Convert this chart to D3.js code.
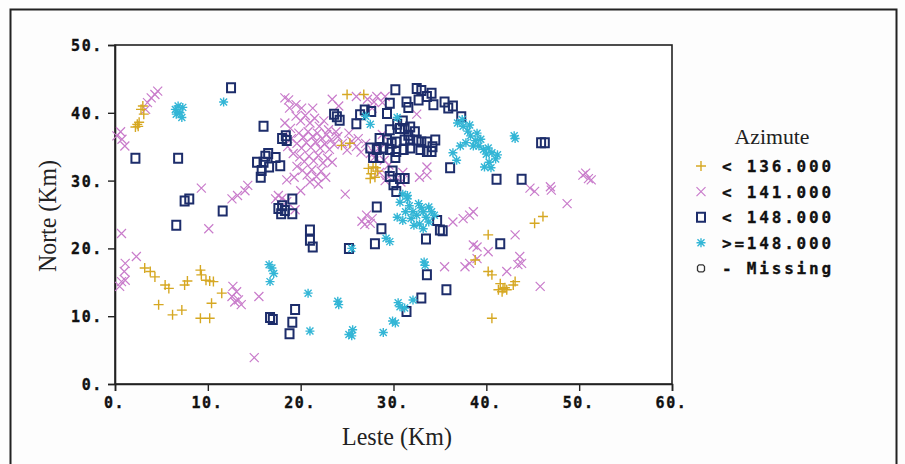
<!DOCTYPE html>
<html>
<head>
<meta charset="utf-8">
<script src="https://cdn.jsdelivr.net/npm/d3@7"></script>
<style>
  html, body { margin: 0; padding: 0; background: #fdfdfd; }
  svg { display: block; }
  .tick text { font-family: "DejaVu Sans Mono", monospace; font-weight: bold; font-size: 15px; letter-spacing: 1.6px; fill: #111; stroke: #111; stroke-width: 0.35px; }
  .title { font-family: "Liberation Serif", "Times New Roman", serif; fill: #222; }
  .leg { font-family: "DejaVu Sans Mono", monospace; font-weight: bold; font-size: 16px; letter-spacing: 2.8px; fill: #111; stroke: #111; stroke-width: 0.3px; }
</style>
</head>
<body>
<svg id="chart" width="905" height="464"></svg>
<script>
// Azimuth classes and their (Leste, Norte) positions in km
const classLabels = ["< 136.000", "< 141.000", "< 148.000", ">=148.000", "- Missing"];
const xTicks = [0, 10, 20, 30, 40, 50, 60];
const yTicks = [0, 10, 20, 30, 40, 50];

const azLt136 = [
  [2.2,37.9],[2.4,38.3],[2.6,38.6],[2.8,40.5],[3.1,39.8],[3.0,41.0],[2.5,38.0],
  [25.0,42.7],[26.8,42.7],[25.3,35.5],[24.4,35.2],
  [27.3,31.8],[27.6,31.0],[28.0,30.5],[27.8,32.0],[28.3,31.4],[27.5,30.3],[28.1,31.9],
  [3.2,17.1],[3.8,16.6],[4.3,15.8],[5.4,14.6],[5.8,14.1],[7.5,14.6],[7.8,15.2],[9.2,16.8],
  [9.3,16.1],[9.8,15.3],[10.2,15.2],[10.6,15.1],[11.5,13.4],[10.4,11.9],[4.7,11.7],[6.2,10.2],
  [7.2,10.9],[9.2,9.7],[10.2,9.7],
  [45.2,23.7],[46.1,24.7],[40.2,22.0],[38.8,18.3],[40.2,16.6],[40.6,16.1],[41.3,13.9],[41.7,13.6],
  [41.8,14.1],[42.2,13.9],[42.9,14.6],[43.1,15.1],[40.6,9.7],[41.5,14.8],[42.0,14.2]
];

const azLt141 = [
  [0.2,36.6],[0.6,37.2],[0.75,36.1],[1.06,35.1],[3.3,40.5],[3.5,41.5],[3.9,42.2],[4.3,42.7],[4.6,43.2],
  [0.7,22.2],[2.3,18.8],[1.1,17.8],[1.0,16.6],[0.7,15.1],[1.1,15.3],[0.5,14.4],
  [9.3,28.9],[10.1,22.9],[12.6,27.3],[13.2,27.8],[14.0,28.5],[14.3,29.3],
  [12.7,14.4],[13.1,13.6],[12.6,12.9],[13.3,12.4],[13.6,11.7],[12.9,12.1],[15.5,12.9],[15.0,3.9],
  [44.7,28.9],[45.2,28.4],[46.9,29.1],[47.0,28.6],[48.7,26.6],[50.4,30.8],[51.0,30.3],[51.3,30.1],[50.7,31.1],
  [43.1,22.0],[43.6,18.8],[43.8,17.8],[43.4,17.6],[42.2,16.6],[45.8,14.4],[38.6,20.5],[39.0,20.2],
  [40.2,19.5],[38.2,17.8],[39.0,18.5],[37.7,17.3],[35.5,17.3],
  [36.4,23.9],[37.5,24.4],[38.2,24.9],[38.6,25.4],
  [27.1,24.9],[27.5,23.7],[26.9,23.5],[27.7,24.4],[26.6,24.0],[24.8,28.0],
  [18.3,42.2],[18.8,40.7],[19.5,41.2],[20.1,40.7],[21.3,40.7],[18.7,41.9],[23.4,42.0],[24.1,41.0],
  [26.0,42.4],[27.2,42.0],[28.2,42.4],[28.8,41.5],[27.7,40.7],[29.1,42.4],[27.9,41.6],
  [24.5,35.5],[25.0,34.5],[25.5,35.8],[26.0,35.0],[26.5,34.2],[27.0,35.5],[27.5,34.0],[28.0,33.5],
  [28.5,34.6],[29.0,33.0],[29.5,32.3],[28.5,31.2],[29.1,30.0],[31.0,31.2],[33.6,32.0],[27.9,34.1],
  [26.2,36.2],[25.2,37.0],[24.0,36.5],[28.8,36.8],[29.3,30.8],[30.8,29.8],[32.8,30.5],[33.6,30.8],[32.5,39.8],
  [18.3,38.5],[18.9,37.7],[19.2,34.0],[19.6,32.1],[18.5,30.1],[18.0,27.4],[18.5,26.9],[19.4,25.7],
  [19.5,39.5],[20.0,38.8],[20.5,39.6],[21.0,38.5],[21.5,39.2],[22.0,38.0],[22.5,38.8],[23.0,37.5],
  [19.8,37.0],[20.3,36.4],[20.8,37.2],[21.3,36.5],[21.8,37.0],[22.3,36.2],[22.8,36.8],[23.3,36.0],[23.8,37.2],
  [19.6,35.5],[20.1,34.8],[20.6,35.6],[21.1,34.9],[21.6,35.7],[22.1,34.8],[22.6,35.4],[23.1,34.6],[23.6,35.3],
  [19.9,33.5],[20.4,32.8],[20.9,33.6],[21.4,32.9],[21.9,33.7],[22.4,32.6],[22.9,33.3],[23.4,32.7],
  [20.2,31.5],[20.7,30.8],[21.2,31.6],[21.7,30.6],[22.2,31.4],[22.7,30.5],[21.0,29.8],[21.9,29.5],
  [19.0,36.2],[18.6,35.0],[19.3,30.5],[20.0,28.5],[17.3,27.3],[17.6,27.8]
];

const azLt148 = [
  [12.5,43.7],[16.0,38.0],[2.2,33.3],[6.8,33.3],[7.5,27.0],[8.0,27.3],[11.6,25.5],[6.6,23.4],
  [16.0,32.7],[16.5,34.0],[17.3,33.4],[17.8,32.2],[15.7,30.5],[15.3,32.7],[16.6,32.0],[15.8,31.5],[16.2,33.6],
  [18.4,36.6],[18.5,35.9],[18.0,36.2],
  [18.0,26.3],[17.6,25.9],[17.9,25.1],[19.1,27.3],[19.1,25.1],[18.3,25.6],
  [21.0,21.2],[21.3,20.2],[21.0,22.7],[25.2,20.0],[28.0,20.7],[28.7,22.9],[28.2,26.1],[33.5,21.4],
  [35.0,22.7],[34.7,24.1],[35.3,22.6],
  [36.1,31.9],[41.1,30.2],[43.8,30.2],[45.9,35.6],[46.3,35.6],[41.5,20.7],
  [33.6,16.1],[35.7,13.9],[33.0,12.7],[31.4,10.7],
  [16.7,9.8],[17.0,9.5],[19.4,11.0],[19.1,9.1],[18.8,7.4],
  [29.6,30.6],[30.0,29.4],[30.3,28.4],[30.7,30.3],[31.2,30.3],[29.9,31.4],
  [23.9,39.4],[24.2,38.9],[23.6,39.8],[26.4,39.7],[26.9,40.4],[27.6,40.2],[26.0,38.4],[29.3,39.9],
  [29.6,41.4],[30.2,43.4],[31.4,41.6],[31.6,40.8],[32.5,43.6],[32.7,41.9],[33.6,42.4],[34.1,42.9],
  [34.3,41.2],[35.5,41.6],[35.9,40.7],[36.4,41.0],[37.3,39.4],[33.0,43.3],
  [29.6,37.5],[30.7,37.7],[31.2,37.7],[31.8,37.9],[31.6,36.7],[28.5,36.2],[29.3,36.0],[29.8,35.5],
  [30.3,35.7],[31.2,36.0],[31.8,36.0],[32.5,36.0],[33.0,35.7],[33.6,35.7],[34.5,36.0],[27.5,34.8],
  [28.2,34.6],[28.9,34.8],[29.6,34.6],[30.3,34.3],[31.1,34.6],[31.8,34.8],[32.9,34.6],[33.6,34.3],
  [34.1,34.3],[27.8,33.4],[28.5,33.4],[30.2,33.4],[30.4,38.3],[31.0,38.8],[34.2,35.0],[32.3,37.2]
];

const azGe148 = [
  [6.5,40.5],[7.0,40.0],[7.2,39.3],[6.8,41.0],[7.3,40.8],[6.6,39.8],[11.7,41.6],
  [16.9,17.1],[17.1,16.3],[16.7,15.1],[16.6,17.6],
  [20.8,13.4],[21.0,7.8],[24.0,12.2],[24.1,11.7],[25.2,7.3],[25.6,8.0],[25.5,7.1],[28.9,7.6],
  [29.9,9.3],[30.2,9.0],[30.5,12.0],[30.7,11.4],[31.2,11.2],[32.1,12.4],[33.3,18.0],[33.4,17.5],
  [29.2,21.5],[29.6,21.0],[25.5,20.0],[43.0,36.6],[43.1,36.2],
  [27.0,39.5],[27.5,38.3],[30.4,39.3],
  [31.0,28.0],[31.5,27.3],[31.7,26.3],[31.3,25.4],[30.4,24.6],[31.0,24.1],[31.9,24.4],[32.5,24.9],
  [33.2,25.4],[33.8,26.1],[34.1,25.4],[32.2,23.4],[33.2,22.9],[33.8,23.9],[32.7,26.6],[33.5,24.6],
  [34.4,24.9],[32.1,25.4],[30.7,26.8],[31.5,27.8],[32.8,23.6],[33.0,26.0],
  [36.9,38.5],[37.5,38.0],[38.0,37.3],[38.3,36.6],[38.8,35.9],[38.6,35.1],[39.2,35.1],[39.7,34.6],
  [40.0,33.9],[40.6,34.1],[41.0,33.2],[40.3,32.7],[39.8,32.0],[37.8,35.6],[37.2,35.1],[39.0,37.0],
  [39.4,36.1],[40.2,34.8],[36.4,34.1],[36.8,33.0],[37.4,39.0],[38.2,38.2],[41.2,33.8],[40.5,31.9]
];

const colors = ["#d6a823", "#c97ccb", "#1d2d6b", "#33b6d6", "#333333"];

// Marker glyphs (stroked paths, centred on the point)
const markerPath = [
  "M-5,0H5M0,-5V5",
  "M-4.5,-4.5L4.5,4.5M4.5,-4.5L-4.5,4.5",
  "M-4,-4.5H4V4.5H-4Z",
  "M-4.5,0H4.5M0,-4.5V4.5M-3.5,-3.5L3.5,3.5M3.5,-3.5L-3.5,3.5",
  "M-2,-3.5H2L3.5,-2V2L2,3.5H-2L-3.5,2V-2Z"
];
const markerWidth = [1.4, 1.2, 2.0, 1.4, 1.3];

const svg = d3.select("#chart");

// Outer frame
svg.append("rect").attr("x", 10.5).attr("y", 9.5).attr("width", 886).attr("height", 470)
  .attr("fill", "#fdfdfd").attr("stroke", "#222").attr("stroke-width", 2);

const x = d3.scaleLinear().domain([0, 60]).range([115, 672]);
const y = d3.scaleLinear().domain([0, 50]).range([384, 45]);

// Plot box
svg.append("rect").attr("x", x(0)).attr("y", y(50))
  .attr("width", x(60) - x(0)).attr("height", y(0) - y(50))
  .attr("fill", "#ffffff").attr("stroke", "#222").attr("stroke-width", 1.6);

const xAxis = svg.append("g").attr("transform", `translate(0,${y(0)})`)
  .call(d3.axisBottom(x).tickValues(xTicks).tickSize(7).tickPadding(6).tickFormat(d => d + "."));
const yAxis = svg.append("g").attr("transform", `translate(${x(0)},0)`)
  .call(d3.axisLeft(y).tickValues(yTicks).tickSize(7).tickPadding(5).tickFormat(d => d + "."));
[xAxis, yAxis].forEach(g => {
  g.select(".domain").attr("stroke", "#222").attr("stroke-width", 1.6);
  g.selectAll(".tick line").attr("stroke", "#222").attr("stroke-width", 1.4);
});
xAxis.selectAll(".tick text").attr("dx", "-1px");
yAxis.selectAll(".tick text").attr("dy", "0.36em");

// Axis titles
svg.append("text").attr("class", "title").attr("x", 397).attr("y", 445)
  .attr("text-anchor", "middle").attr("font-size", 25)
  .attr("textLength", 110).attr("lengthAdjust", "spacingAndGlyphs").text("Leste (Km)");
svg.append("text").attr("class", "title")
  .attr("transform", "translate(56,216) rotate(-90)")
  .attr("text-anchor", "middle").attr("font-size", 25)
  .attr("textLength", 112).attr("lengthAdjust", "spacingAndGlyphs").text("Norte (Km)");

// Points
const series = [azLt141, azLt136, azLt148, azGe148];
const seriesIdx = [1, 0, 2, 3];
series.forEach((pts, k) => {
  const i = seriesIdx[k];
  svg.append("g").selectAll("path").data(pts).join("path")
    .attr("d", markerPath[i])
    .attr("transform", d => `translate(${x(d[0])},${y(d[1])})`)
    .attr("fill", "none").attr("stroke", colors[i]).attr("stroke-width", markerWidth[i]);
});

// Legend
const leg = svg.append("g");
leg.append("text").attr("class", "title").attr("x", 772).attr("y", 144)
  .attr("text-anchor", "middle").attr("font-size", 22)
  .attr("textLength", 75).attr("lengthAdjust", "spacingAndGlyphs").text("Azimute");
classLabels.forEach((lab, i) => {
  const yy = 166 + i * 25.6;
  leg.append("path").attr("d", markerPath[i])
    .attr("transform", `translate(701,${yy})`)
    .attr("fill", "none").attr("stroke", colors[i]).attr("stroke-width", markerWidth[i]);
  leg.append("text").attr("class", "leg").attr("x", 722).attr("y", yy + 6).text(lab);
});
</script>
</body>
</html>
